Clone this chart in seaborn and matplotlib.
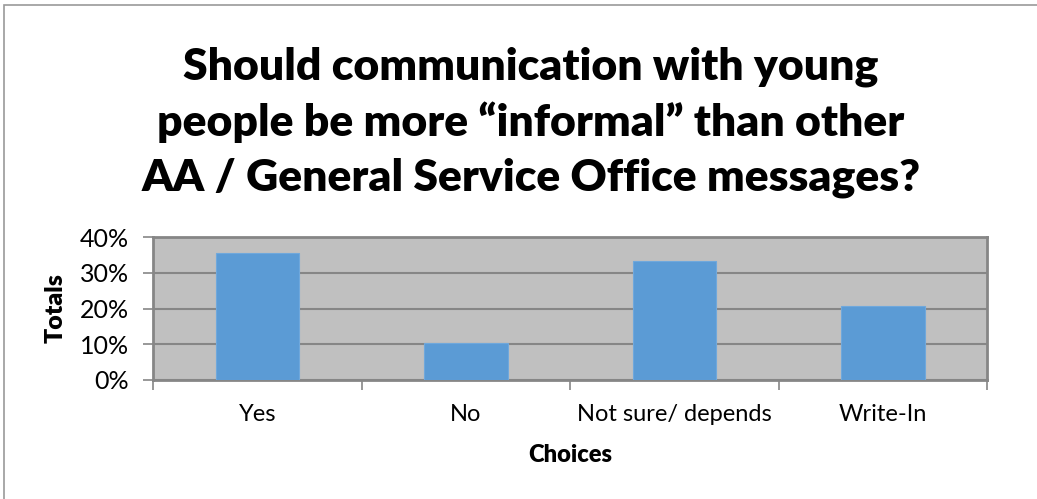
import matplotlib.pyplot as plt
import matplotlib.ticker as mticker
import seaborn as sns
import pandas as pd

# Survey answers (share of respondents)
choices = ['Yes', 'No', 'Not sure/ depends', 'Write-In']
totals = [0.354, 0.104, 0.333, 0.208]

df = pd.DataFrame({'Choices': choices, 'Totals': totals})

sns.set_style('white')
plt.rcParams['font.family'] = ['Lato', 'DejaVu Sans']
plt.rcParams['text.color'] = 'black'
plt.rcParams['xtick.color'] = 'black'
plt.rcParams['ytick.color'] = 'black'
plt.rcParams['axes.labelcolor'] = 'black'

fig = plt.figure(figsize=(10.37, 4.99), dpi=100)
ax = fig.add_axes([0.1475, 0.2385, 0.8045, 0.2865])

sns.barplot(x='Choices', y='Totals', data=df, ax=ax, color='#5B9BD5',
            width=0.4, saturation=1, edgecolor='#6FA8DC', linewidth=0.8, zorder=3)

ax.set_facecolor('#C0C0C0')
ax.set_ylim(0, 0.4)
ax.set_xlim(-0.5, len(choices) - 0.5)
ax.yaxis.set_major_locator(mticker.MultipleLocator(0.1))
ax.yaxis.set_major_formatter(mticker.PercentFormatter(1.0, decimals=0))
ax.grid(axis='y', color='#868686', linewidth=1.5, zorder=0)
ax.set_axisbelow(True)
for s in ax.spines.values():
    s.set_color('#868686')
    s.set_linewidth(2)

# category boundary ticks on x, labels centered
ax.set_xticks([i - 0.5 for i in range(len(choices) + 1)], minor=False)
ax.set_xticklabels([])
ax.set_xticks(range(len(choices)), minor=True)
ax.set_xticklabels(choices, minor=True, fontsize=17)
ax.tick_params(axis='x', which='major', length=7, color='#868686', width=1.2, direction='out', bottom=True)
ax.tick_params(axis='x', which='minor', length=0, pad=17)
ax.tick_params(axis='y', length=7, color='#868686', width=1.2, direction='out', left=True, labelsize=18, pad=10)

ax.set_xlabel('Choices', fontsize=17, fontweight='heavy', labelpad=14)
ax.set_ylabel('Totals', fontsize=18, fontweight='heavy', labelpad=10)

fig.text(0.512, 0.755, 'Should communication with young\npeople be more \u201cinformal\u201d than other\nAA / General Service Office messages?',
         ha='center', va='center', fontsize=32, fontweight='heavy', linespacing=1.42)

# outer chart border
fig.patches.append(plt.Rectangle((0.004, -0.01), 1.1, 1.0, transform=fig.transFigure,
                                 fill=False, edgecolor='#9a9a9a', linewidth=1.2))

fig.savefig('out.png', dpi=100, facecolor='white')
